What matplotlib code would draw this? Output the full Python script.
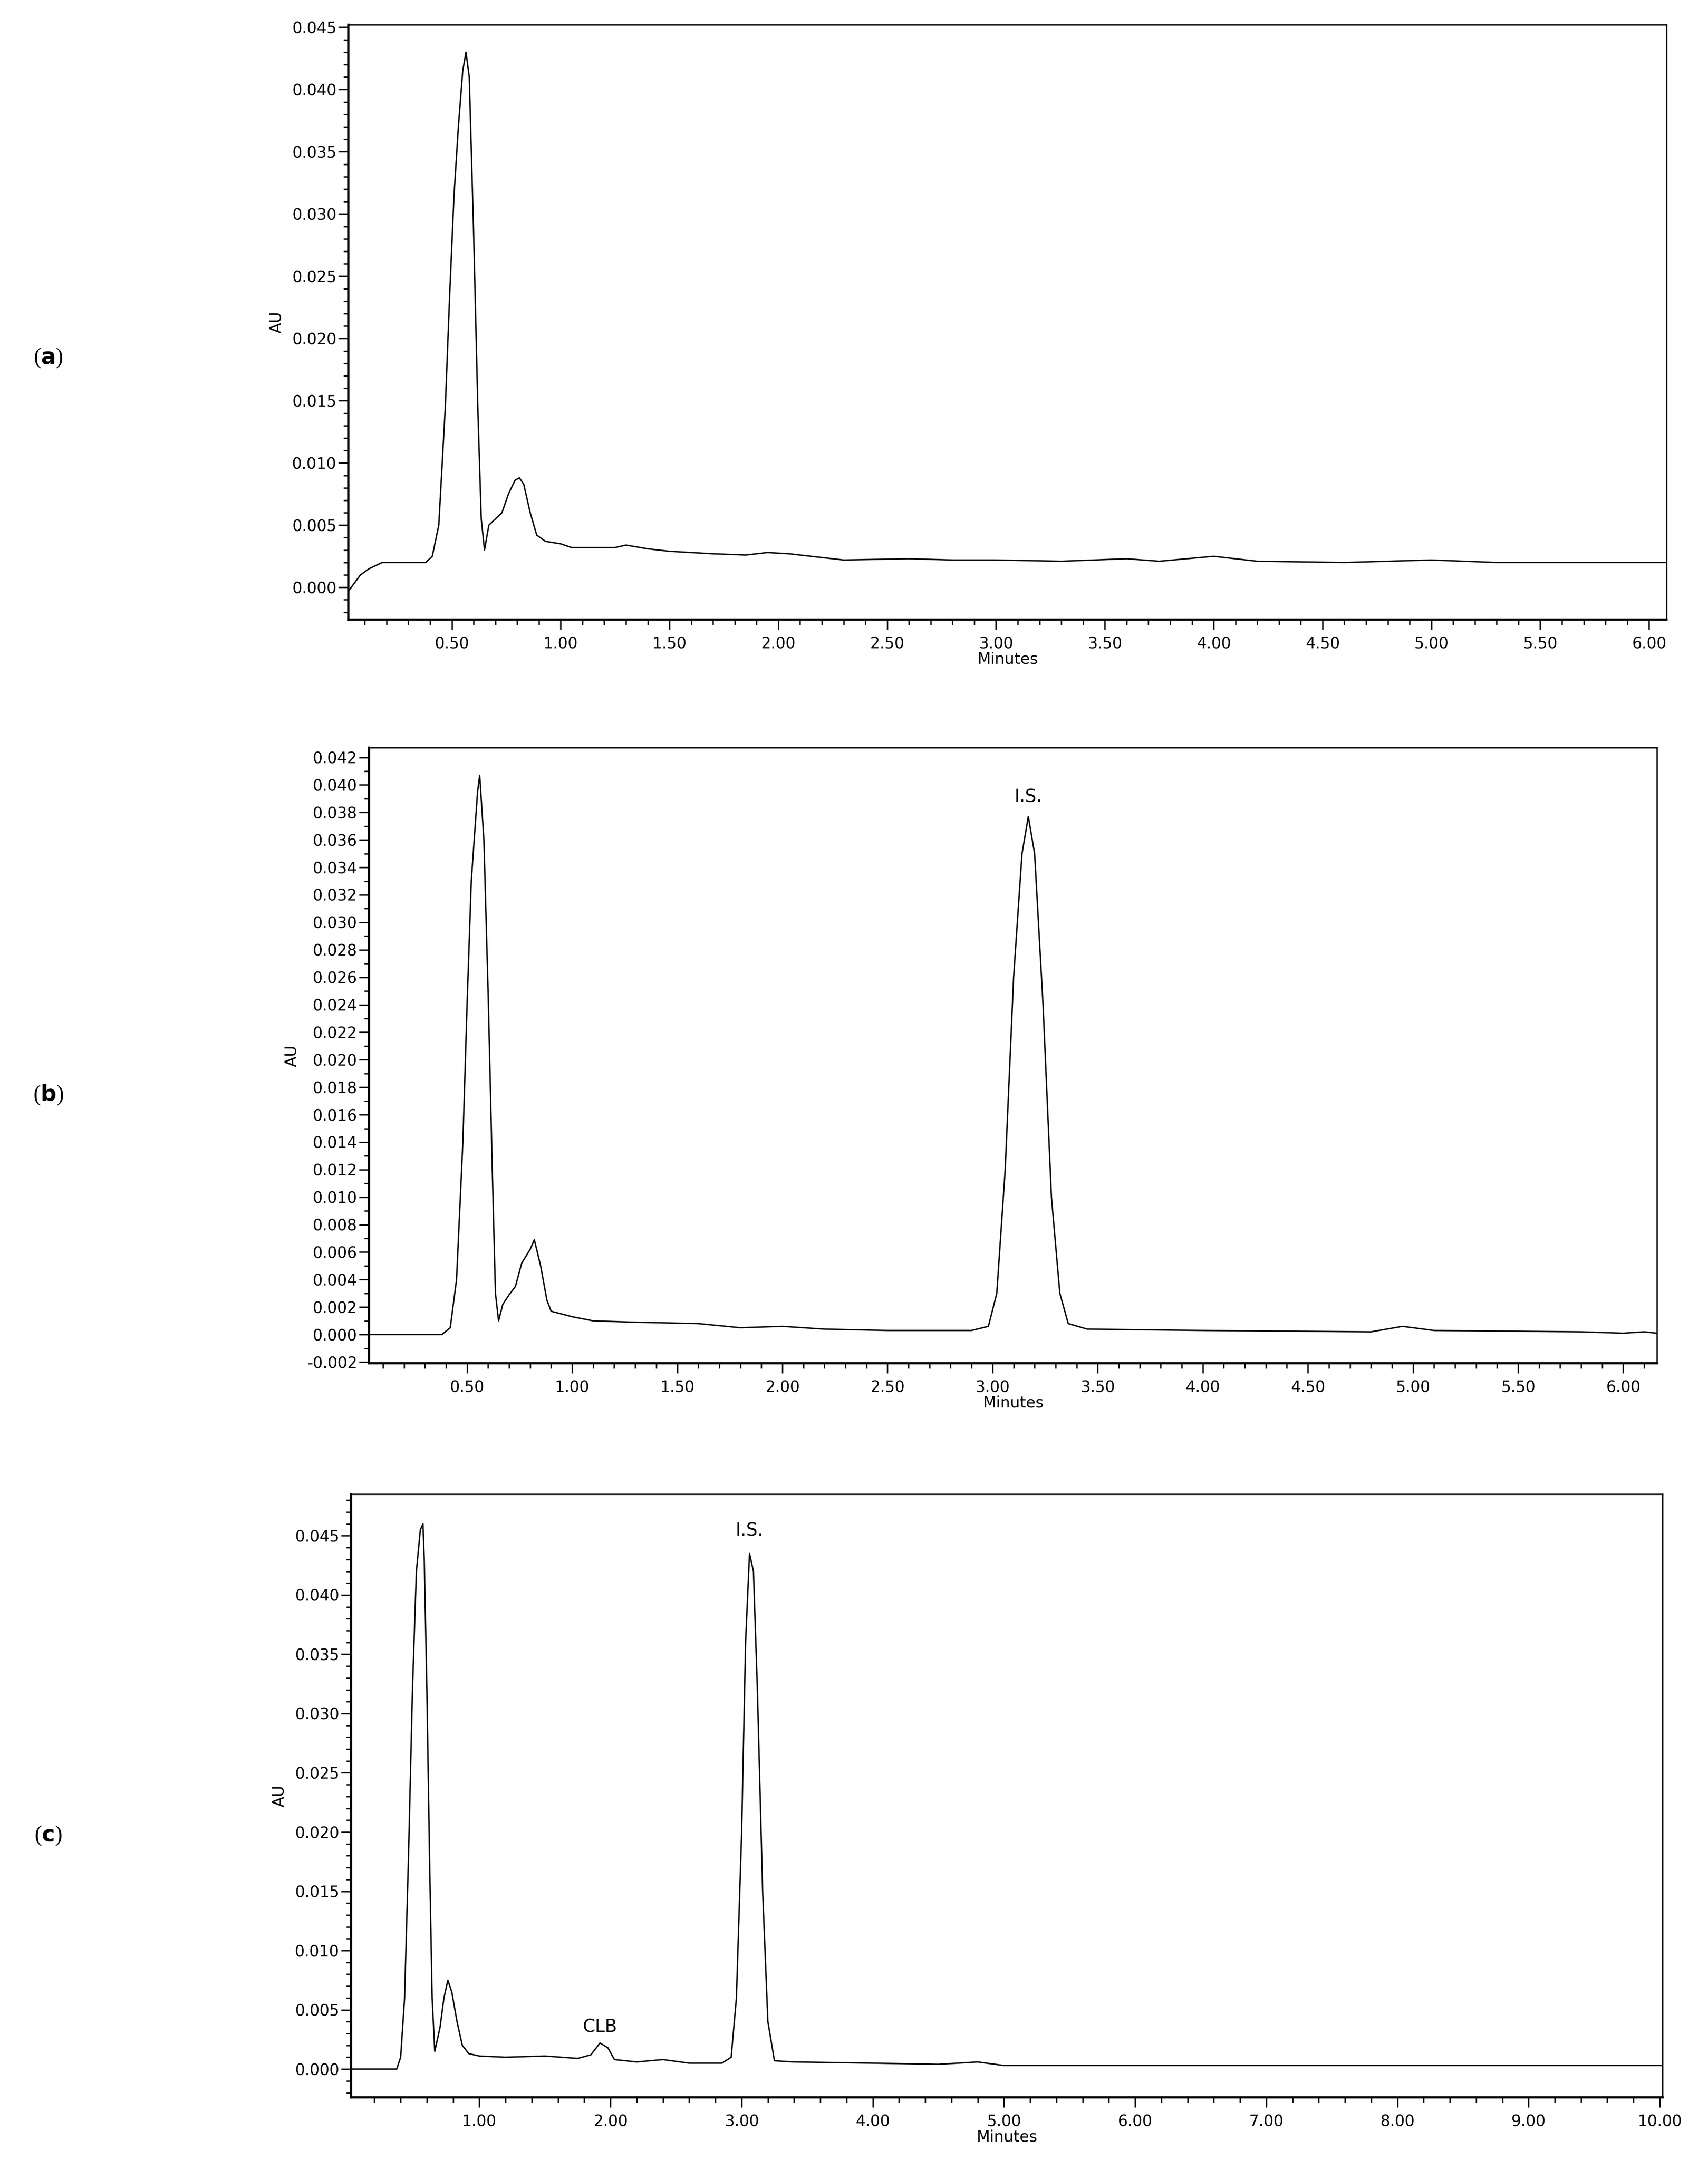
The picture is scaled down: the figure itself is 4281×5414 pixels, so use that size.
import matplotlib
matplotlib.use("Agg")
import matplotlib.pyplot as plt
import matplotlib.ticker as ticker

# panel (a): blank
t_a = [0.025, 0.08, 0.12, 0.18, 0.38, 0.41, 0.44, 0.47, 0.49, 0.51, 0.53, 0.55, 0.565, 0.58, 0.60,
       0.62, 0.635, 0.65, 0.67, 0.70, 0.73, 0.76, 0.79, 0.81, 0.83, 0.86, 0.89, 0.93, 1.00, 1.05,
       1.15, 1.25, 1.30, 1.40, 1.50, 1.70, 1.85, 1.95, 2.05, 2.15, 2.30, 2.60, 2.80, 3.00, 3.30,
       3.60, 3.75, 4.00, 4.20, 4.60, 5.00, 5.30, 6.08]
au_a = [-0.0003, 0.0010, 0.0015, 0.0020, 0.0020, 0.0025, 0.0050, 0.0145, 0.0235, 0.0315, 0.0370,
        0.0415, 0.0430, 0.0410, 0.0285, 0.0140, 0.0055, 0.0030, 0.0050, 0.0055, 0.0060, 0.0075,
        0.0086, 0.0088, 0.0083, 0.0060, 0.0042, 0.0037, 0.0035, 0.0032, 0.0032, 0.0032, 0.0034,
        0.0031, 0.0029, 0.0027, 0.0026, 0.0028, 0.0027, 0.0025, 0.0022, 0.0023, 0.0022, 0.0022,
        0.0021, 0.0023, 0.0021, 0.0025, 0.0021, 0.0020, 0.0022, 0.0020, 0.0020]

# panel (b): blank + I.S.
t_b = [0.034, 0.38, 0.42, 0.45, 0.48, 0.50, 0.52, 0.55, 0.56, 0.58, 0.60, 0.62, 0.635, 0.65, 0.67,
       0.70, 0.73, 0.76, 0.80, 0.82, 0.85, 0.88, 0.90, 0.95, 1.0, 1.1, 1.3, 1.6, 1.8, 2.0, 2.2, 2.5,
       2.9, 2.98, 3.02, 3.06, 3.10, 3.14, 3.17, 3.20, 3.24, 3.28, 3.32, 3.36, 3.45, 4.0, 4.8, 4.95,
       5.1, 5.8, 6.0, 6.1, 6.16]
au_b = [0.0, 0.0, 0.0005, 0.004, 0.014, 0.024, 0.033, 0.0395, 0.0407, 0.036, 0.025, 0.012, 0.003,
        0.001, 0.0022, 0.0029, 0.0035, 0.0052, 0.0062, 0.0069, 0.005, 0.0025, 0.0017, 0.0015, 0.0013,
        0.001, 0.0009, 0.0008, 0.0005, 0.0006, 0.0004, 0.0003, 0.0003, 0.0006, 0.003, 0.012, 0.026,
        0.035, 0.0377, 0.035, 0.024, 0.010, 0.003, 0.0008, 0.0004, 0.0003, 0.0002, 0.0006, 0.0003,
        0.0002, 0.0001, 0.0002, 0.0001]

# panel (c): sample with CLB + I.S.
t_c = [0.023, 0.37, 0.40, 0.43, 0.46, 0.49, 0.52, 0.55, 0.57, 0.58, 0.60, 0.62, 0.64, 0.66, 0.68,
       0.70, 0.73, 0.76, 0.79, 0.83, 0.87, 0.92, 1.0, 1.2, 1.5, 1.75, 1.85, 1.92, 1.98, 2.03, 2.2,
       2.4, 2.6, 2.85, 2.92, 2.96, 3.00, 3.03, 3.06, 3.09, 3.12, 3.16, 3.20, 3.25, 3.4, 4.0, 4.5,
       4.8, 5.0, 6.0, 10.02]
au_c = [0.0, 0.0, 0.001, 0.006, 0.018, 0.032, 0.042, 0.0455, 0.046, 0.043, 0.032, 0.018, 0.006,
        0.0015, 0.0025, 0.0035, 0.006, 0.0075, 0.0065, 0.004, 0.002, 0.0013, 0.0011, 0.0010, 0.0011,
        0.0009, 0.0012, 0.0022, 0.0018, 0.0008, 0.0006, 0.0008, 0.0005, 0.0005, 0.001, 0.006, 0.020,
        0.036, 0.0435, 0.042, 0.032, 0.015, 0.004, 0.0007, 0.0006, 0.0005, 0.0004, 0.0006, 0.0003,
        0.0003, 0.0003]

W, H = 4281, 5414
fig = plt.figure(figsize=(W / 100, H / 100), dpi=100)
s = 3.452  # display-to-output pixel scale


def box(l, t, r, b):
    return [l * s / W, 1 - b * s / H, (r - l) * s / W, (b - t) * s / H]


panels = [
    dict(t=t_a, y=au_a, rect=box(253, 18, 1210, 450), xlim=(0.025, 6.08), ylim=(-0.0026, 0.0452),
         xmaj=0.5, xmin=0.1, ymaj=0.005, ymin=0.001, label="a", ly=260, notes=[]),
    dict(t=t_b, y=au_b, rect=box(268, 543, 1203, 990), xlim=(0.034, 6.16), ylim=(-0.0021, 0.0427),
         xmaj=0.5, xmin=0.1, ymaj=0.002, ymin=0.001, label="b", ly=795,
         notes=[("I.S.", 3.17, 0.0385)]),
    dict(t=t_c, y=au_c, rect=box(255, 1085, 1207, 1523), xlim=(0.023, 10.02), ylim=(-0.0024, 0.0485),
         xmaj=1.0, xmin=0.2, ymaj=0.005, ymin=0.001, label="c", ly=1333,
         notes=[("I.S.", 3.06, 0.0447), ("CLB", 1.92, 0.0028)]),
]

for p in panels:
    ax = fig.add_axes(p["rect"])
    ax.plot(p["t"], p["y"], color="black", lw=2.5)
    ax.set_xlim(*p["xlim"])
    ax.set_ylim(*p["ylim"])
    ax.xaxis.set_major_locator(ticker.MultipleLocator(p["xmaj"]))
    ax.xaxis.set_minor_locator(ticker.MultipleLocator(p["xmin"]))
    ax.yaxis.set_major_locator(ticker.MultipleLocator(p["ymaj"]))
    ax.yaxis.set_minor_locator(ticker.MultipleLocator(p["ymin"]))
    ax.xaxis.set_major_formatter(ticker.FormatStrFormatter("%.2f"))
    ax.yaxis.set_major_formatter(ticker.FormatStrFormatter("%.3f"))
    ax.tick_params(which="major", length=18, width=2.5, labelsize=28, direction="out")
    ax.tick_params(which="minor", length=9, width=2.5, direction="out")
    ax.tick_params(axis="x", pad=12)
    for sp in ax.spines.values():
        sp.set_linewidth(2.5)
    ax.spines["left"].set_linewidth(4)
    ax.spines["bottom"].set_linewidth(4)
    ax.set_xlabel("Minutes", fontsize=28, labelpad=0)
    ax.set_ylabel("AU", fontsize=28, labelpad=14)
    for txt, x, y in p["notes"]:
        ax.text(x, y, txt, fontsize=32, ha="center", va="bottom")
    fig.text(35 * s / W, 1 - p["ly"] * s / H, "(" + r"$\mathbf{" + p["label"] + "}$" + ")",
             fontsize=40, family="Liberation Serif", ha="center", va="center")

plt.rcParams["mathtext.fontset"] = "dejavuserif"
fig.savefig("out.png", dpi=100)
